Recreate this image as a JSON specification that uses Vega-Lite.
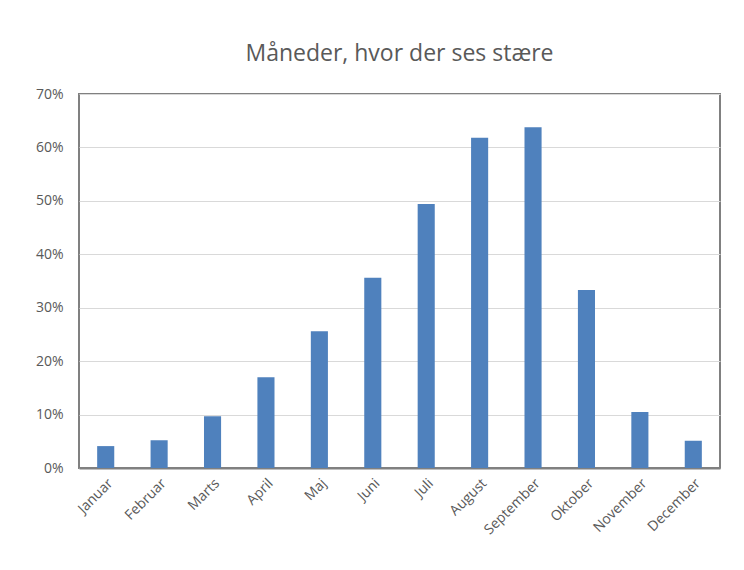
{
  "$schema": "https://vega.github.io/schema/vega-lite/v6.json",
  "autosize": "none",
  "width": 641,
  "height": 374,
  "padding": {"left": 79, "top": 94, "right": 24, "bottom": 102},
  "background": "white",
  "title": {
    "text": "Måneder, hvor der ses stære",
    "font": "Open Sans",
    "fontSize": 23,
    "fontWeight": "normal",
    "color": "#595959",
    "anchor": "middle",
    "offset": 21
  },
  "data": {
    "values": [
      {"maaned": "Januar", "andel": 0.041},
      {"maaned": "Februar", "andel": 0.052},
      {"maaned": "Marts", "andel": 0.097},
      {"maaned": "April", "andel": 0.170},
      {"maaned": "Maj", "andel": 0.256},
      {"maaned": "Juni", "andel": 0.356},
      {"maaned": "Juli", "andel": 0.494},
      {"maaned": "August", "andel": 0.618},
      {"maaned": "September", "andel": 0.638},
      {"maaned": "Oktober", "andel": 0.333},
      {"maaned": "November", "andel": 0.105},
      {"maaned": "December", "andel": 0.051}
    ]
  },
  "mark": {"type": "bar", "color": "#4f81bd"},
  "encoding": {
    "x": {
      "field": "maaned",
      "type": "nominal",
      "sort": null,
      "scale": {"paddingInner": 0.68, "paddingOuter": 0.34},
      "axis": {
        "title": null,
        "labelAngle": -45,
        "labelFont": "Open Sans",
        "labelFontSize": 14,
        "labelColor": "#595959",
        "labelPadding": 8,
        "ticks": false,
        "domainColor": "#808080",
        "domainWidth": 2
      }
    },
    "y": {
      "field": "andel",
      "type": "quantitative",
      "scale": {"domain": [0, 0.7]},
      "axis": {
        "title": null,
        "format": ".0%",
        "values": [0, 0.1, 0.2, 0.3, 0.4, 0.5, 0.6, 0.7],
        "labelFont": "Open Sans",
        "labelFontSize": 14,
        "labelColor": "#595959",
        "labelPadding": 16,
        "ticks": false,
        "domain": false,
        "gridColor": "#d9d9d9",
        "gridWidth": 1
      }
    }
  },
  "config": {
    "view": {"stroke": "#808080", "strokeWidth": 2}
  }
}
